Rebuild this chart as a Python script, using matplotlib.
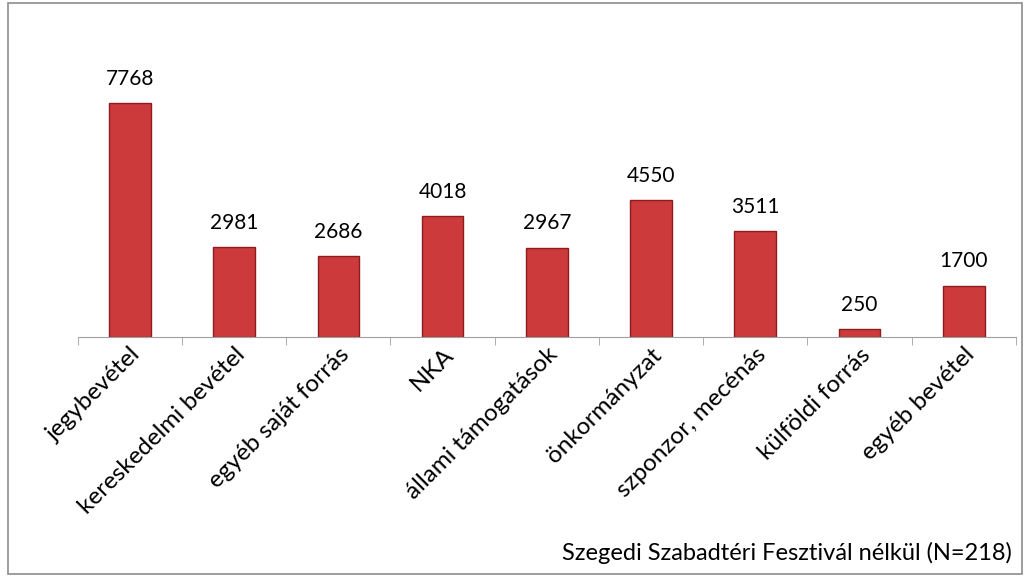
import matplotlib.pyplot as plt
import numpy as np
from matplotlib.patches import Rectangle

categories = ['jegybevétel', 'kereskedelmi bevétel', 'egyéb saját forrás', 'NKA',
              'állami támogatások', 'önkormányzat', 'szponzor, mecénás',
              'külföldi forrás', 'egyéb bevétel']
values = [7768, 2981, 2686, 4018, 2967, 4550, 3511, 250, 1700]
caption = 'Szegedi Szabadtéri Fesztivál nélkül (N=218)'

plt.rcParams['font.family'] = ['Lato', 'DejaVu Sans']

fig = plt.figure(figsize=(10.24, 5.81), dpi=100)
ax = fig.add_axes([0.076, 0.42, 0.916, 0.466])

x = np.arange(len(categories))
bars = ax.bar(x, values, width=0.4, color='#cc3a3c', edgecolor='#8e1c1e', linewidth=1.0)

for xi, v in zip(x, values):
    ax.text(xi, v + 480, str(v), ha='center', va='bottom', fontsize=15, color='black')

ax.set_xlim(-0.5, len(categories) - 0.5)
ax.set_ylim(0, 9000)
ax.set_yticks([])
for s in ['top', 'right', 'left']:
    ax.spines[s].set_visible(False)
ax.spines['bottom'].set_color('#a0a0a0')

ax.set_xticks(x)
ax.set_xticklabels(categories, rotation=45, ha='right', rotation_mode='anchor', fontsize=17.5)
ax.tick_params(axis='x', which='major', length=0, pad=5)
ax.set_xticks(np.arange(len(categories) + 1) - 0.5, minor=True)
ax.tick_params(axis='x', which='minor', length=6, color='#a0a0a0')

fig.text(0.988, 0.03, caption, ha='right', va='bottom', fontsize=17)

fig.patches.append(Rectangle((0.008, 0.012), 0.99, 0.982, transform=fig.transFigure,
                             fill=False, edgecolor='#8c8c8c', linewidth=1.2))

fig.savefig('out.png', dpi=100)
